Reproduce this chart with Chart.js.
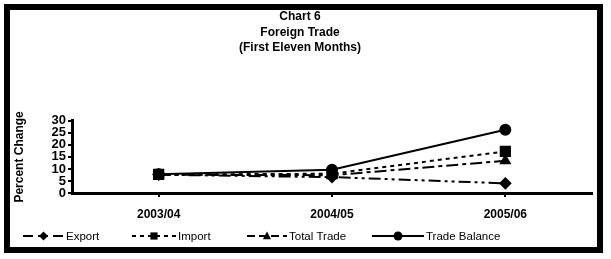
<!DOCTYPE html>
<html>
<head>
<meta charset="utf-8">
<script src="https://cdn.jsdelivr.net/npm/chart.js@4/dist/chart.umd.min.js"></script>
<style>
  html, body { margin: 0; padding: 0; background: #fff; }
  #wrap { width: 611px; height: 259px; }
</style>
</head>
<body>
<div id="wrap"><canvas id="chart" width="611" height="259"></canvas></div>
<script>
const years = ["2003/04", "2004/05", "2005/06"];
const exportVals = [7.6, 6.6, 4.0];
const importVals = [7.7, 8.0, 17.3];
const totalTradeVals = [7.6, 7.4, 13.4];
const tradeBalanceVals = [7.8, 9.7, 26.3];
const yTicks = [0, 5, 10, 15, 20, 25, 30];

const font = "'Liberation Sans', Arial, sans-serif";

const series = [
  { label: "Export", data: exportVals, dash: [12, 4, 3, 4, 3, 4], style: "rectRot", radius: 5, legendDash: [10, 5], order: 2 },
  { label: "Import", data: importVals, dash: [4, 4], style: "rect", radius: 6.5, legendDash: [4, 4], order: 0 },
  { label: "Total Trade", data: totalTradeVals, dash: [12, 4, 4, 4], style: "triangle", radius: 5, legendDash: [8, 4], order: 2 },
  { label: "Trade Balance", data: tradeBalanceVals, dash: [], style: "circle", radius: 5, legendDash: [], order: 1 },
];

// legend sample start and width
const legendX = [23, 132, 247, 372];
const legendW = [41, 44, 40, 52];

function marker(ctx, style, x, y, r) {
  ctx.beginPath();
  if (style === "rectRot") {
    ctx.moveTo(x, y - r); ctx.lineTo(x + r, y); ctx.lineTo(x, y + r); ctx.lineTo(x - r, y);
  } else if (style === "rect") {
    ctx.rect(x - r * 0.8, y - r * 0.8, r * 1.6, r * 1.6);
  } else if (style === "triangle") {
    ctx.moveTo(x, y - r); ctx.lineTo(x + r * 0.9, y + r * 0.7); ctx.lineTo(x - r * 0.9, y + r * 0.7);
  } else {
    ctx.arc(x, y, r, 0, Math.PI * 2);
  }
  ctx.closePath();
  ctx.fill();
}

const frame = {
  id: "frame",
  beforeDraw(chart) {
    const ctx = chart.ctx;
    ctx.save();
    ctx.fillStyle = "#fff";
    ctx.fillRect(0, 0, chart.width, chart.height);
    ctx.strokeStyle = "#000";
    ctx.lineWidth = 6;
    ctx.strokeRect(7, 7, 593, 243);
    ctx.restore();
  },
  afterDraw(chart) {
    const ctx = chart.ctx;
    const y = 236;
    ctx.save();
    ctx.fillStyle = "#000";
    ctx.strokeStyle = "#000";
    ctx.font = "11.5px " + font;
    ctx.textBaseline = "middle";
    series.forEach((s, i) => {
      const x0 = legendX[i];
      const w = legendW[i];
      ctx.lineWidth = 2;
      ctx.setLineDash(s.legendDash);
      ctx.beginPath();
      ctx.moveTo(x0, y);
      ctx.lineTo(x0 + w, y);
      ctx.stroke();
      ctx.setLineDash([]);
      marker(ctx, s.style, x0 + w / 2, y, 4.5);
      ctx.fillText(s.label, x0 + w + 2, y + 1);
    });
    ctx.restore();
  },
};

new Chart(document.getElementById("chart"), {
  type: "line",
  data: {
    labels: years,
    datasets: series.map((s) => ({
      label: s.label,
      data: s.data,
      order: s.order,
      borderColor: "#000",
      backgroundColor: "#000",
      borderWidth: 2,
      borderDash: s.dash,
      pointStyle: s.style,
      pointRadius: s.radius,
      pointBackgroundColor: "#000",
      pointBorderColor: "#000",
      tension: 0,
    })),
  },
  options: {
    responsive: false,
    animation: false,
    layout: { padding: { left: 8, right: 19, top: 0, bottom: 26 } },
    plugins: {
      legend: { display: false },
      tooltip: { enabled: false },
      title: {
        display: true,
        text: ["Chart 6", "Foreign Trade", "(First Eleven Months)"],
        color: "#000",
        font: { family: font, size: 12, weight: "bold", lineHeight: 1.3 },
        padding: { top: 9, bottom: 65 },
      },
    },
    scales: {
      x: {
        offset: true,
        grid: { drawOnChartArea: false, color: "#000", tickLength: 4, lineWidth: 2 },
        border: { color: "#000", width: 3 },
        ticks: { color: "#000", padding: 10, font: { family: font, size: 12, weight: "bold" } },
        afterFit(s) { s.height = 40; },
      },
      y: {
        min: 0,
        max: 30,
        afterBuildTicks(s) { s.ticks = yTicks.map((v) => ({ value: v })); },
        grid: { drawOnChartArea: false, color: "#000", tickLength: 4, lineWidth: 2 },
        border: { color: "#000", width: 3 },
        ticks: { color: "#000", padding: 2, autoSkip: false, font: { family: font, size: 13, weight: "bold", lineHeight: 1 } },
        title: {
          display: true,
          text: "Percent Change",
          color: "#000",
          font: { family: font, size: 12, weight: "bold" },
          padding: { top: 4, bottom: 0 },
        },
        afterFit(s) { s.width = 64; },
      },
    },
  },
  plugins: [frame],
});
</script>
</body>
</html>
